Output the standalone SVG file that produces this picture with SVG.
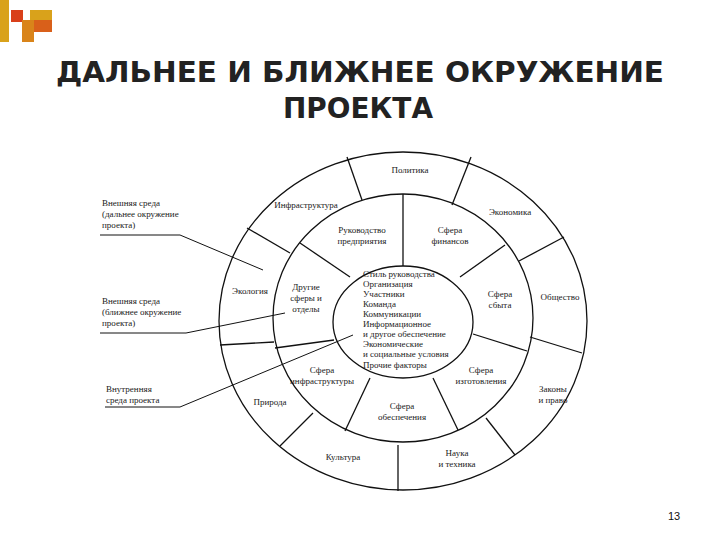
<svg xmlns="http://www.w3.org/2000/svg" width="720" height="540" viewBox="0 0 720 540">
<style>
.t{font-family:"Liberation Serif",serif;font-size:9px;fill:#222;text-anchor:middle}
.l{font-family:"Liberation Serif",serif;font-size:9px;fill:#222}
.h{font-family:"DejaVu Sans",sans-serif;font-size:28px;font-weight:bold;fill:#222;text-anchor:middle}
.s{fill:none;stroke:#111;stroke-width:1.3}
</style>
<rect width="720" height="540" fill="#fff"/>
<g id="logo">
<rect x="0" y="0" width="9" height="42" fill="#d9a21b"/>
<rect x="11" y="10" width="12" height="12" fill="#d9401a"/>
<rect x="30" y="10" width="22" height="10" fill="#d9a21b"/>
<rect x="22" y="20" width="12" height="22" fill="#d9841a"/>
<rect x="34" y="20" width="18" height="12" fill="#d9601a"/>
</g>
<g id="title">
<text class="h" x="360" y="82" textLength="608" lengthAdjust="spacingAndGlyphs">ДАЛЬНЕЕ И БЛИЖНЕЕ ОКРУЖЕНИЕ</text>
<text class="h" x="358" y="118" textLength="150" lengthAdjust="spacingAndGlyphs">ПРОЕКТА</text>
</g>
<g id="rings">
<ellipse class="s" cx="403" cy="321" rx="184" ry="169"/>
<ellipse class="s" cx="403" cy="318" rx="130" ry="124"/>
<ellipse class="s" cx="403" cy="322" rx="70" ry="56"/>
</g>
<g id="connectors" class="s">
<line x1="347" y1="157" x2="362" y2="200"/>
<line x1="471" y1="157" x2="452" y2="205"/>
<line x1="564" y1="237" x2="519" y2="261"/>
<line x1="247" y1="228" x2="290" y2="253"/>
<line x1="220" y1="345" x2="274" y2="342"/>
<line x1="280" y1="446" x2="313" y2="413"/>
<line x1="398" y1="491" x2="398" y2="445"/>
<line x1="515" y1="455" x2="486" y2="418"/>
<line x1="582" y1="353" x2="530" y2="337"/>
<line x1="403" y1="194" x2="403" y2="266"/>
<line x1="300" y1="243" x2="350" y2="277"/>
<line x1="505" y1="245" x2="460" y2="277"/>
<line x1="275" y1="348" x2="334" y2="340"/>
<line x1="473" y1="334" x2="527" y2="351"/>
<line x1="370" y1="378" x2="345" y2="431"/>
<line x1="433" y1="378" x2="458" y2="430"/>
<polyline points="100,235 180,235 263,270" stroke-width="1"/>
<polyline points="100,333 186,333 285,313" stroke-width="1"/>
<polyline points="105,407 180,407 353,335" stroke-width="1"/>
</g>
<g id="labels">
<text class="l" x="102" y="206">Внешняя среда</text>
<text class="l" x="102" y="217">(дальнее окружение</text>
<text class="l" x="102" y="228">проекта)</text>
<text class="l" x="102" y="304">Внешняя среда</text>
<text class="l" x="102" y="315">(ближнее окружение</text>
<text class="l" x="102" y="326">проекта)</text>
<text class="l" x="106" y="392">Внутренняя</text>
<text class="l" x="106" y="403">среда проекта</text>
</g>
<g id="outer">
<text class="t" x="410" y="173">Политика</text>
<text class="t" x="306" y="208">Инфраструктура</text>
<text class="t" x="510" y="215">Экономика</text>
<text class="t" x="250" y="294">Экология</text>
<text class="t" x="560" y="300">Общество</text>
<text class="t" x="270" y="405">Природа</text>
<text class="t" x="553" y="392">Законы</text>
<text class="t" x="553" y="403">и право</text>
<text class="t" x="343" y="460">Культура</text>
<text class="t" x="457" y="456">Наука</text>
<text class="t" x="457" y="467">и техника</text>
</g>
<g id="middle">
<text class="t" x="362" y="233">Руководство</text>
<text class="t" x="362" y="244">предприятия</text>
<text class="t" x="450" y="233">Сфера</text>
<text class="t" x="450" y="244">финансов</text>
<text class="t" x="306" y="290">Другие</text>
<text class="t" x="306" y="301">сферы и</text>
<text class="t" x="306" y="312">отделы</text>
<text class="t" x="500" y="297">Сфера</text>
<text class="t" x="500" y="308">сбыта</text>
<text class="t" x="322" y="373">Сфера</text>
<text class="t" x="322" y="384">инфраструктуры</text>
<text class="t" x="481" y="373">Сфера</text>
<text class="t" x="481" y="384">изготовления</text>
<text class="t" x="402" y="409">Сфера</text>
<text class="t" x="402" y="420">обеспечения</text>
</g>
<g id="inner">
<text class="l" x="363" y="277">Стиль руководства</text>
<text class="l" x="363" y="287">Организация</text>
<text class="l" x="363" y="297">Участники</text>
<text class="l" x="363" y="307">Команда</text>
<text class="l" x="363" y="317">Коммуникации</text>
<text class="l" x="363" y="327">Информационное</text>
<text class="l" x="363" y="337">и другое обеспечение</text>
<text class="l" x="363" y="347">Экономические</text>
<text class="l" x="363" y="357">и социальные условия</text>
<text class="l" x="363" y="368">Прочие факторы</text>
</g>
<text x="668" y="520" style="font-family:'Liberation Sans',sans-serif;font-size:11px;fill:#111">13</text>
</svg>
